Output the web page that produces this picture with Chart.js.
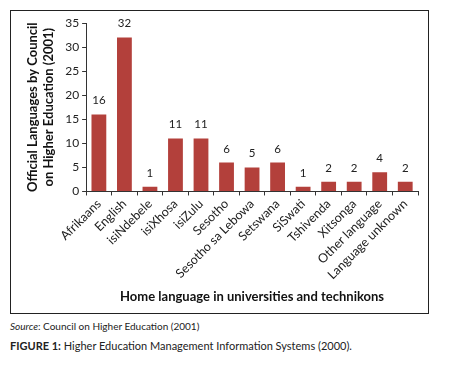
<!DOCTYPE html>
<html>
<head>
<meta charset="utf-8">
<script src="https://cdn.jsdelivr.net/npm/chart.js@4"></script>
<style>
  body { margin: 0; background: #fff; font-family: Lato, "Open Sans", sans-serif; }
  #box { position: absolute; left: 10px; top: 10px; width: 417px; height: 302px; border: 1px solid #222; }
  #box canvas { display: block; }
  .src { position: absolute; left: 10px; top: 320px; font-size: 10px; color: #222; }
  .fig { position: absolute; left: 10px; top: 339px; font-size: 11px; color: #222; }
</style>
</head>
<body>
<div id="box"><canvas id="chart" width="417" height="302"></canvas></div>
<div class="src"><i>Source</i>: Council on Higher Education (2001)</div>
<div class="fig"><b>FIGURE 1:</b> Higher Education Management Information Systems (2000).</div>
<script>
const languages = ["Afrikaans", "English", "isiNdebele", "isiXhosa", "isiZulu", "Sesotho",
  "Sesotho sa Lebowa", "Setswana", "SiSwati", "Tshivenda", "Xitsonga", "Other language", "Language unknown"];
const counts = [16, 32, 1, 11, 11, 6, 5, 6, 1, 2, 2, 4, 2];
const yTicks = [0, 35, 5];

// draw the value over each bar
const valueLabels = {
  id: "valueLabels",
  afterDatasetsDraw(chart) {
    const ctx = chart.ctx;
    ctx.save();
    ctx.font = "11.5px Lato, 'Open Sans', sans-serif";
    ctx.fillStyle = "#222";
    ctx.textAlign = "center";
    ctx.textBaseline = "bottom";
    chart.getDatasetMeta(0).data.forEach((bar, i) => {
      ctx.fillText(counts[i], bar.x, bar.y - 8);
    });
    ctx.restore();
  },
};

new Chart(document.getElementById("chart").getContext("2d"), {
  type: "bar",
  data: {
    labels: languages,
    datasets: [{
      data: counts,
      backgroundColor: "#b3403b",
      categoryPercentage: 1,
      barPercentage: 0.58,
    }],
  },
  options: {
    responsive: false,
    animation: false,
    layout: { padding: { top: 12, right: 10, left: 10, bottom: 4 } },
    plugins: { legend: { display: false }, tooltip: { enabled: false } },
    scales: {
      x: {
        grid: { display: true, drawOnChartArea: false, color: "#333", tickLength: 4, offset: true },
        border: { color: "#333" },
        ticks: { minRotation: 45, maxRotation: 45, color: "#222", padding: 1,
          font: { family: "Lato", size: 12.5 } },
        title: { display: true, text: "Home language in universities and technikons",
          color: "#111", font: { family: "Lato", size: 13, weight: "bold" }, padding: { top: 6 } },
      },
      y: {
        min: yTicks[0], max: yTicks[1],
        grid: { display: true, drawOnChartArea: false, color: "#333", tickLength: 4 },
        border: { color: "#333" },
        ticks: { stepSize: yTicks[2], color: "#222", padding: 3,
          font: { family: "Lato", size: 12 } },
        title: { display: true, text: ["Official Languages by Council", "on Higher Education (2001)"],
          color: "#111", font: { family: "Lato", size: 13, weight: "bold" }, padding: { bottom: 6 } },
      },
    },
  },
  plugins: [valueLabels],
});
</script>
</body>
</html>
